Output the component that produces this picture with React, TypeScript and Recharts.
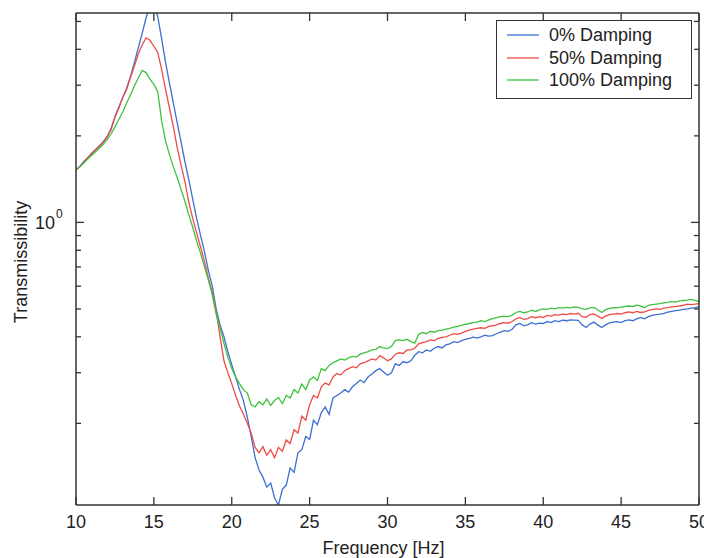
import React from 'react';
import { LineChart, Line, XAxis, YAxis, Legend } from 'recharts';

const frequency = [
  10, 10.25, 10.5, 10.75, 11, 11.25, 11.5, 11.75, 12, 12.25, 12.5, 12.75,
  13, 13.25, 13.5, 13.75, 14, 14.25, 14.5, 14.75, 15, 15.25, 15.5, 15.75,
  16, 16.25, 16.5, 16.75, 17, 17.25, 17.5, 17.75, 18, 18.25, 18.5, 18.75,
  19, 19.25, 19.5, 19.75, 20, 20.25, 20.5, 20.75, 21, 21.25, 21.5, 21.75,
  22, 22.25, 22.5, 22.75, 23, 23.25, 23.5, 23.75, 24, 24.25, 24.5, 24.75,
  25, 25.25, 25.5, 25.75, 26, 26.25, 26.5, 26.75, 27, 27.25, 27.5, 27.75,
  28, 28.25, 28.5, 28.75, 29, 29.25, 29.5, 29.75, 30, 30.25, 30.5, 30.75,
  31, 31.25, 31.5, 31.75, 32, 32.25, 32.5, 32.75, 33, 33.25, 33.5, 33.75,
  34, 34.25, 34.5, 34.75, 35, 35.25, 35.5, 35.75, 36, 36.25, 36.5, 36.75,
  37, 37.25, 37.5, 37.75, 38, 38.25, 38.5, 38.75, 39, 39.25, 39.5, 39.75,
  40, 40.25, 40.5, 40.75, 41, 41.25, 41.5, 41.75, 42, 42.25, 42.5, 42.75,
  43, 43.25, 43.5, 43.75, 44, 44.25, 44.5, 44.75, 45, 45.25, 45.5, 45.75,
  46, 46.25, 46.5, 46.75, 47, 47.25, 47.5, 47.75, 48, 48.25, 48.5, 48.75,
  49, 49.25, 49.5, 49.75, 50,
];

const damping0 = [
  1.52, 1.57, 1.63, 1.68, 1.74, 1.79, 1.85, 1.91, 1.99, 2.12, 2.33, 2.52,
  2.72, 2.93, 3.22, 3.6, 4.05, 4.55, 5.15, 5.65, 5.8, 5.2, 4.35, 3.6,
  3.05, 2.6, 2.22, 1.9, 1.62, 1.4, 1.2, 1.03, 0.9, 0.79, 0.68, 0.6,
  0.5, 0.44, 0.4, 0.355, 0.32, 0.29, 0.262, 0.24, 0.21, 0.18, 0.152, 0.138,
  0.13, 0.12, 0.124, 0.11, 0.104, 0.118, 0.122, 0.14, 0.135, 0.158, 0.162, 0.18,
  0.176, 0.205, 0.198, 0.218, 0.228, 0.215, 0.245, 0.25, 0.255, 0.262, 0.257, 0.268,
  0.275, 0.283, 0.277, 0.29, 0.297, 0.305, 0.31, 0.302, 0.294, 0.3, 0.322, 0.318,
  0.328, 0.325, 0.33, 0.345, 0.355, 0.352, 0.36, 0.356, 0.365, 0.37, 0.366, 0.375,
  0.378, 0.385, 0.382, 0.388, 0.392, 0.395, 0.399, 0.396, 0.4, 0.405, 0.402, 0.404,
  0.41, 0.415, 0.42, 0.418, 0.425, 0.44, 0.445, 0.437, 0.44, 0.448, 0.443, 0.446,
  0.445, 0.452, 0.448, 0.455, 0.452, 0.457, 0.455, 0.458, 0.457, 0.456, 0.44, 0.431,
  0.443, 0.45, 0.44, 0.431, 0.44, 0.447, 0.45, 0.452, 0.448, 0.455, 0.458, 0.455,
  0.462, 0.467, 0.462, 0.47, 0.475, 0.478, 0.48, 0.483, 0.487, 0.49, 0.493, 0.495,
  0.498, 0.5, 0.503, 0.505, 0.508,
];

const damping50 = [
  1.52, 1.56, 1.62, 1.68, 1.73, 1.79, 1.84, 1.9, 1.98, 2.1, 2.32, 2.5,
  2.72, 2.9, 3.2, 3.5, 3.85, 4.15, 4.38, 4.3, 4.1, 3.9, 3.4, 2.9,
  2.5, 2.15, 1.82, 1.58, 1.38, 1.17, 1.03, 0.92, 0.82, 0.73, 0.64, 0.57,
  0.49, 0.4, 0.33, 0.3, 0.275, 0.25, 0.23, 0.215, 0.2, 0.185, 0.165, 0.158,
  0.166, 0.155, 0.162, 0.152, 0.165, 0.16, 0.175, 0.17, 0.19, 0.185, 0.212, 0.205,
  0.232, 0.25, 0.245, 0.268, 0.276, 0.272, 0.29, 0.298, 0.295, 0.305, 0.31, 0.315,
  0.312, 0.322, 0.325, 0.33, 0.335, 0.332, 0.344, 0.338, 0.33, 0.335, 0.348, 0.352,
  0.35, 0.36, 0.36, 0.365, 0.378, 0.382, 0.385, 0.39, 0.388, 0.395, 0.398, 0.4,
  0.405, 0.41, 0.408, 0.412, 0.418, 0.422, 0.425, 0.428, 0.43, 0.428, 0.435, 0.437,
  0.44, 0.445, 0.448, 0.446, 0.452, 0.462, 0.467, 0.46, 0.463, 0.47, 0.466, 0.47,
  0.467, 0.475, 0.472, 0.478, 0.476, 0.48, 0.478, 0.482, 0.48, 0.483, 0.47, 0.468,
  0.478, 0.48, 0.472, 0.463, 0.472, 0.478, 0.48, 0.482, 0.48, 0.485, 0.488, 0.485,
  0.49, 0.486, 0.488, 0.494, 0.497, 0.5, 0.498, 0.503, 0.505, 0.508, 0.51, 0.512,
  0.515, 0.52, 0.518, 0.52, 0.522,
];

const damping100 = [
  1.52, 1.56, 1.61, 1.66, 1.71, 1.76, 1.81, 1.87, 1.94, 2.03, 2.15, 2.28,
  2.42, 2.6, 2.78, 2.98, 3.18, 3.38, 3.32, 3.15, 3.02, 2.85, 2.25, 1.92,
  1.72, 1.56, 1.43, 1.3, 1.18, 1.06, 0.96, 0.86, 0.78, 0.7, 0.63, 0.56,
  0.48, 0.43, 0.38, 0.34, 0.31, 0.29, 0.275, 0.262, 0.255, 0.232, 0.228, 0.238,
  0.232, 0.243, 0.231, 0.24, 0.246, 0.234, 0.25, 0.245, 0.262, 0.255, 0.274, 0.262,
  0.283, 0.29, 0.282, 0.31, 0.305, 0.318, 0.325, 0.33, 0.335, 0.332, 0.338, 0.342,
  0.34, 0.348, 0.352, 0.355, 0.36, 0.362, 0.37, 0.366, 0.364, 0.37, 0.388, 0.39,
  0.388, 0.392, 0.385, 0.38, 0.408, 0.414, 0.41, 0.418, 0.415, 0.42, 0.422, 0.425,
  0.428, 0.432, 0.435, 0.438, 0.442, 0.445, 0.448, 0.45, 0.455, 0.452, 0.458, 0.463,
  0.466, 0.47, 0.472, 0.47, 0.476, 0.486, 0.49, 0.485, 0.488, 0.495, 0.49, 0.496,
  0.5, 0.498, 0.503, 0.5, 0.505, 0.503, 0.506, 0.504, 0.508, 0.506, 0.5, 0.498,
  0.504, 0.506, 0.497, 0.486, 0.496, 0.502, 0.505, 0.504, 0.507, 0.51, 0.512, 0.51,
  0.515, 0.512, 0.505, 0.515, 0.518, 0.52, 0.522, 0.525, 0.527, 0.53, 0.528, 0.533,
  0.535, 0.537, 0.54, 0.536, 0.53,
];

const xTicks = [10, 15, 20, 25, 30, 35, 40, 45, 50];
const yTicks = [0.2, 0.3, 0.4, 0.5, 0.6, 0.7, 0.8, 0.9, 1, 2, 3, 4, 5];
const yDomain = [0.104, 5.35];
const seriesKeys = ['d0', 'd50', 'd100'];
const seriesNames = ['0% Damping', '50% Damping', '100% Damping'];
const seriesColors = ['#3d70d2', '#ef4c46', '#3fc23f'];

const data = frequency.map((f, i) => ({
  f,
  d0: damping0[i],
  d50: damping50[i],
  d100: damping100[i],
}));

const FONT = '"Liberation Sans", Arial, Helvetica, sans-serif';
const AXIS = '#333';
const TEXT = '#222';

const BottomTick = (props: any) => {
  const { x, y, payload } = props;
  return (
    <g>
      <line x1={x} y1={y} x2={x} y2={y - 8} stroke={AXIS} strokeWidth={1.3} />
      <text x={x} y={y + 23} textAnchor="middle" fontSize={18} fill={TEXT} fontFamily={FONT}>
        {payload.value}
      </text>
    </g>
  );
};

const TopTick = (props: any) => {
  const { x, y } = props;
  return <line x1={x} y1={y} x2={x} y2={y + 8} stroke={AXIS} strokeWidth={1.3} />;
};

const LeftTick = (props: any) => {
  const { x, y, payload } = props;
  const major = payload.value === 1;
  return (
    <g>
      <line x1={x} y1={y} x2={x + (major ? 8 : 5)} y2={y} stroke={AXIS} strokeWidth={1.3} />
      {major && (
        <g fontFamily={FONT} fill={TEXT}>
          <text x={x - 21} y={y + 7} textAnchor="end" fontSize={18}>10</text>
          <text x={x - 20} y={y - 4} textAnchor="start" fontSize={12}>0</text>
        </g>
      )}
    </g>
  );
};

const RightTick = (props: any) => {
  const { x, y, payload } = props;
  const major = payload.value === 1;
  return <line x1={x} y1={y} x2={x - (major ? 8 : 5)} y2={y} stroke={AXIS} strokeWidth={1.3} />;
};

const YLabel = (props: any) => {
  const vb = props.viewBox || { x: 0, y: 13, width: 76, height: 492 };
  const cx = vb.x + 21;
  const cy = vb.y + vb.height / 2 + 3;
  return (
    <text
      x={cx}
      y={cy}
      transform={`rotate(-90 ${cx} ${cy})`}
      textAnchor="middle"
      dominantBaseline="central"
      fontSize={18}
      fill={TEXT}
      fontFamily={FONT}
    >
      Transmissibility
    </text>
  );
};

const XLabel = (props: any) => {
  const vb = props.viewBox || { x: 76, y: 505, width: 623, height: 53 };
  const cx = vb.x + vb.width / 2 - 4;
  const cy = vb.y + vb.height - 4;
  return (
    <text x={cx} y={cy} textAnchor="middle" fontSize={18} fill={TEXT} fontFamily={FONT}>
      Frequency [Hz]
    </text>
  );
};

const LegendBox = () => (
  <div
    style={{
      border: `1.5px solid ${AXIS}`,
      background: '#fff',
      width: 194,
      height: 74,
      boxSizing: 'content-box',
      fontFamily: FONT,
      fontSize: 18,
      color: TEXT,
      paddingTop: 3,
    }}
  >
    {seriesNames.map((name, i) => (
      <div key={name} style={{ display: 'flex', alignItems: 'center', height: 22.5 }}>
        <svg width={52} height={10} style={{ flex: 'none' }}>
          <line x1={10} y1={5} x2={42} y2={5} stroke={seriesColors[i]} strokeWidth={1.3} />
        </svg>
        <span style={{ lineHeight: '20px' }}>{name}</span>
      </div>
    ))}
  </div>
);

export default function App() {
  return (
    <div style={{ position: 'absolute', left: 0, top: 0, width: 704, height: 558, overflow: 'hidden', background: '#fff' }}>
      <LineChart
        width={704}
        height={558}
        data={data}
        margin={{ top: 8, right: 0, bottom: 0, left: 0 }}
      >
        <XAxis
          xAxisId="top"
          orientation="top"
          dataKey="f"
          type="number"
          domain={[10, 50]}
          ticks={xTicks}
          interval={0}
          height={5}
          tickSize={0}
          tickMargin={0}
          tickLine={false}
          axisLine={{ stroke: AXIS, strokeWidth: 1.5 }}
          tick={<TopTick />}
        />
        <XAxis
          xAxisId="bottom"
          orientation="bottom"
          dataKey="f"
          type="number"
          domain={[10, 50]}
          ticks={xTicks}
          interval={0}
          height={53}
          tickSize={0}
          tickMargin={0}
          tickLine={false}
          axisLine={{ stroke: AXIS, strokeWidth: 1.5 }}
          tick={<BottomTick />}
          label={(p: any) => <XLabel {...p} />}
        />
        <YAxis
          yAxisId="left"
          orientation="left"
          type="number"
          scale="log"
          domain={yDomain}
          allowDataOverflow
          ticks={yTicks}
          interval={0}
          width={76}
          tickSize={0}
          tickMargin={0}
          tickLine={false}
          axisLine={{ stroke: AXIS, strokeWidth: 1.5 }}
          tick={<LeftTick />}
          label={(p: any) => <YLabel {...p} />}
        />
        <YAxis
          yAxisId="right"
          orientation="right"
          type="number"
          scale="log"
          domain={yDomain}
          allowDataOverflow
          ticks={yTicks}
          interval={0}
          width={5}
          tickSize={0}
          tickMargin={0}
          tickLine={false}
          axisLine={{ stroke: AXIS, strokeWidth: 1.5 }}
          tick={<RightTick />}
        />
        <Legend
          layout="horizontal"
          verticalAlign="middle"
          align="center"
          wrapperStyle={{ top: 20, left: 496, width: 'auto', height: 'auto' }}
          content={() => <LegendBox />}
        />
        {seriesKeys.map((k, i) => (
          <Line
            key={k}
            xAxisId="bottom"
            yAxisId="left"
            dataKey={k}
            name={seriesNames[i]}
            stroke={seriesColors[i]}
            strokeWidth={1.3}
            dot={false}
            activeDot={false}
            type="linear"
            isAnimationActive={false}
          />
        ))}
      </LineChart>
    </div>
  );
}
